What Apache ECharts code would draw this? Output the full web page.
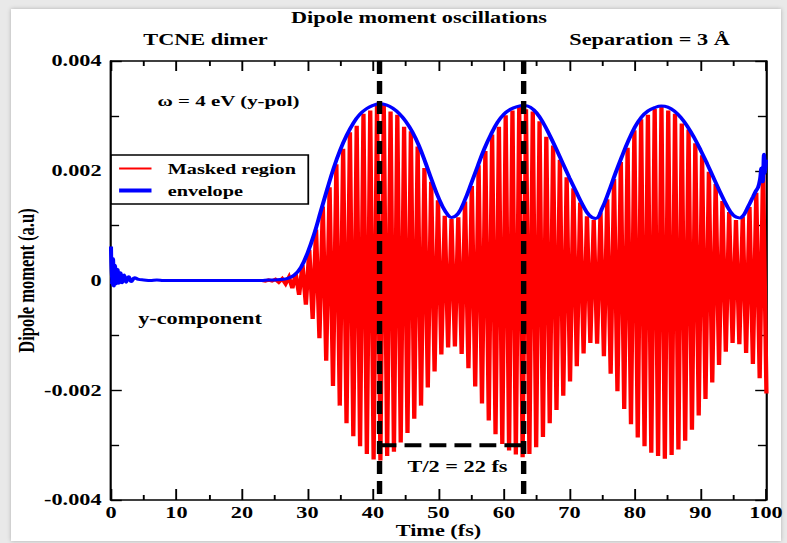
<!DOCTYPE html>
<html>
<head>
<meta charset="utf-8">
<title>Dipole moment oscillations</title>
<script src="https://cdn.jsdelivr.net/npm/echarts@6/dist/echarts.min.js"></script>
<style>
  html, body { margin: 0; padding: 0; background: #e9e9e9; }
  #page { position: relative; width: 787px; height: 543px; overflow: hidden; background: #e9e9e9; }
  #card { position: absolute; left: 11px; top: 9px; width: 770px; height: 532px; background: #fff;
          box-shadow: 0 0 4px rgba(0, 0, 0, 0.25); }
  /* the plot is laid out on a narrower canvas and widened, like the original xmgrace export */
  #chart { position: absolute; left: 0; top: 0; width: 583px; height: 543px;
           transform: scaleX(1.349914); transform-origin: 0 0; }
</style>
</head>
<body>
<div id="page"><div id="card"></div><div id="chart"></div></div>
<script>
// ---- data (dipole values in units of 10^-3 a.u.) ----

// masked y-component signal: one crest and one trough per optical cycle (4 eV -> 1.034 fs)
const cycleStart = 22;
const cyclePeriod = 1.034;
const crestValues = [
  0.00, 0.00, 0.01, 0.02, 0.03, 0.06, 0.12, 0.28, 0.56, 0.93,
  1.35, 1.70, 2.12, 2.40, 2.70, 2.82, 3.04, 3.10, 3.19, 3.20,
  3.08, 3.02, 2.80, 2.72, 2.44, 2.05, 1.80, 1.46, 1.18, 1.12,
  1.15, 1.44, 1.72, 2.10, 2.36, 2.66, 2.80, 3.01, 3.10, 3.16,
  3.12, 3.08, 2.90, 2.62, 2.46, 2.20, 1.88, 1.68, 1.42, 1.17,
  1.10, 1.24, 1.48, 1.85, 2.16, 2.42, 2.74, 2.94, 3.02, 3.13,
  3.16, 3.10, 3.04, 2.86, 2.75, 2.50, 2.28, 1.98, 1.76, 1.45,
  1.25, 1.10, 1.16, 1.34, 1.60, 2.05
];
const troughValues = [
  -0.00, -0.01, -0.01, -0.03, -0.06, -0.14, -0.26, -0.44, -0.70, -1.05,
  -1.46, -1.92, -2.28, -2.60, -2.84, -3.02, -3.16, -3.26, -3.28, -3.20,
  -3.12, -2.95, -2.78, -2.52, -2.28, -1.95, -1.66, -1.35, -1.22, -1.20,
  -1.34, -1.60, -1.93, -2.24, -2.55, -2.80, -2.98, -3.10, -3.17, -3.22,
  -3.16, -3.04, -2.85, -2.60, -2.36, -2.10, -1.84, -1.56, -1.33, -1.14,
  -1.15, -1.38, -1.70, -2.02, -2.34, -2.62, -2.86, -3.02, -3.14, -3.20,
  -3.25, -3.18, -3.08, -2.92, -2.72, -2.46, -2.16, -1.86, -1.54, -1.30,
  -1.14, -1.16, -1.32, -1.52, -1.78, -2.06
];

// envelope of the signal
const envTime = [
  0, 0.15, 0.3, 0.45, 0.6, 0.8, 1.0, 1.2, 1.45, 1.7, 2.0, 2.3, 2.7, 3.1, 3.6, 4.2,
  5, 6, 7, 8, 9, 10, 12, 14, 16, 18, 20, 22, 23, 24, 25, 26, 27, 28, 29,
  30, 31, 32, 33, 34, 35, 36, 37, 38, 39, 40, 41, 42, 43, 44, 45, 46, 47, 48, 49,
  50, 51, 52, 53, 54, 55, 56, 57, 58, 59, 60, 61, 62, 63, 64, 65, 66, 67, 68, 69,
  70, 71, 72, 73, 74, 75, 76, 77, 78, 79, 80, 81, 82, 83, 84, 85, 86, 87, 88, 89,
  90, 91, 92, 93, 94, 95, 96, 96.5, 97, 97.5, 98, 98.4, 98.8, 99.1, 99.3, 99.5, 99.7, 99.85, 100
];
const envValue = [
  0.62, -0.08, 0.40, -0.10, 0.28, -0.06, 0.20, -0.05, 0.14, -0.04, 0.10, -0.03, 0.07, -0.02, 0.05, 0.02,
  0.01, 0.00, 0.01, 0.00, 0.00, 0.00, 0.00, 0.00, 0.00, 0.00, 0.00, 0.00, 0.00, 0.01, 0.01, 0.02, 0.04, 0.10, 0.24,
  0.50, 0.84, 1.25, 1.66, 2.05, 2.38, 2.65, 2.87, 3.03, 3.13, 3.19, 3.22, 3.20, 3.14, 3.04, 2.90, 2.71, 2.46, 2.15, 1.82,
  1.51, 1.27, 1.15, 1.22, 1.46, 1.77, 2.09, 2.40, 2.66, 2.88, 3.03, 3.12, 3.17, 3.19, 3.16, 3.05, 2.87, 2.64, 2.39, 2.13,
  1.87, 1.62, 1.38, 1.19, 1.13, 1.32, 1.62, 1.95, 2.26, 2.55, 2.80, 2.98, 3.09, 3.15, 3.18, 3.16, 3.09, 2.97, 2.81, 2.61,
  2.38, 2.13, 1.87, 1.61, 1.37, 1.19, 1.14, 1.18, 1.28, 1.40, 1.52, 1.62, 1.70, 1.85, 2.05, 1.80, 2.30, 1.95, 2.20
];

// half-period annotation
const periodMarks = [41, 63];
const halfPeriodLevel = -3.0;

// ---- layout helpers ----
const FONT = '"Liberation Serif", "Times New Roman", Times, serif';
const STRETCH = 787 / 583;
const px = x => x / STRETCH;           // page x -> chart x
const unit = 1e-3;
const yMin = -0.004, yMax = 0.004;

const masked = [];
crestValues.forEach((c, k) => {
  const t = cycleStart + k * cyclePeriod;
  masked.push([t, c * unit]);
  masked.push([t + cyclePeriod / 2, troughValues[k] * unit]);
});
const envelope = envTime.map((t, i) => [t, envValue[i] * unit]);

const black = '#000';
const labelFont = { fontFamily: FONT, fontWeight: 'bold', fontSize: 16.5, color: black };

function boxAxis(extra) {
  return Object.assign({
    type: 'value',
    splitLine: { show: false },
    nameMoveOverlap: false,
    axisLine: { show: true, onZero: false, lineStyle: { color: black, width: 1.6 } },
    axisTick: { show: true, inside: true, length: 10, lineStyle: { color: black, width: 1.4 } },
    minorTick: { show: true, splitNumber: 2, length: 5, lineStyle: { color: black, width: 1.4 } },
    axisLabel: { show: false }
  }, extra);
}

const dashSeries = periodMarks.map(t => ({
  type: 'line', name: 'mark' + t, data: [[t, yMax], [t, yMin]],
  symbol: 'none', silent: true, z: 6,
  lineStyle: { color: black, width: 4, type: [13, 7] }
}));

const chart = echarts.init(document.getElementById('chart'), null, { renderer: 'svg' });
chart.setOption({
  animation: false,
  backgroundColor: 'transparent',
  textStyle: { fontFamily: FONT },
  grid: { left: px(111), right: 583 - px(766), top: 61, bottom: 43, containLabel: false, outerBoundsMode: 'none' },
  legend: {
    data: [
      { name: 'Masked region', icon: 'path://M0,0H24V2H0Z' },
      { name: 'envelope', icon: 'path://M0,0H24V4H0Z' }
    ],
    orient: 'vertical',
    left: px(111), top: 155,
    backgroundColor: '#fff',
    borderColor: black, borderWidth: 1.3, borderRadius: 0,
    padding: [6, 9, 6, 6],
    itemWidth: 24, itemHeight: 14, itemGap: 7,
    textStyle: { fontFamily: FONT, fontWeight: 'bold', fontSize: 15, color: black, padding: [0, 0, 0, 7] }
  },
  xAxis: [
    boxAxis({
      position: 'bottom', min: 0, max: 100, interval: 10,
      axisTick: { show: true, inside: true, length: 11, lineStyle: { color: black, width: 1.4 } },
      axisLabel: Object.assign({ show: true, margin: 4 }, labelFont),
      name: 'Time (fs)', nameLocation: 'middle', nameGap: 22,
      nameTextStyle: labelFont
    }),
    boxAxis({ position: 'top', min: 0, max: 100, interval: 10 })
  ],
  yAxis: [
    boxAxis({
      position: 'left', min: yMin, max: yMax, interval: 0.002,
      axisTick: { show: true, inside: true, length: 8, lineStyle: { color: black, width: 1.4 } },
      minorTick: { show: true, splitNumber: 2, length: 6, lineStyle: { color: black, width: 1.4 } },
      axisLabel: Object.assign({
        show: true, margin: 7,
        formatter: v => (Math.abs(v) < 1e-12 ? '0' : v.toFixed(3))
      }, labelFont),
      name: 'Dipole moment (a.u)', nameLocation: 'middle', nameGap: 54, nameRotate: 90,
      nameTextStyle: labelFont
    }),
    boxAxis({
      position: 'right', min: yMin, max: yMax, interval: 0.002,
      axisTick: { show: true, inside: true, length: 8, lineStyle: { color: black, width: 1.4 } },
      minorTick: { show: true, splitNumber: 2, length: 6, lineStyle: { color: black, width: 1.4 } }
    })
  ],
  series: [
    {
      type: 'line', name: 'Masked region', data: masked,
      symbol: 'none', z: 2, clip: true,
      itemStyle: { color: '#ff0000' },
      lineStyle: { color: '#ff0000', width: 3.2, join: 'miter' }
    },
    {
      type: 'line', name: 'envelope', data: envelope,
      symbol: 'none', z: 3, smooth: 0.4, clip: true,
      itemStyle: { color: '#0000ff' },
      lineStyle: { color: '#0000ff', width: 3 }
    },
    ...dashSeries,
    {
      type: 'line', name: 'half period', data: [[periodMarks[0], halfPeriodLevel * unit], [periodMarks[1], halfPeriodLevel * unit]],
      symbol: 'none', silent: true, z: 6,
      lineStyle: { color: black, width: 4, type: [12.5, 6] }
    }
  ],
  graphic: [
    { type: 'text', x: px(419), y: 18, style: { text: 'Dipole moment oscillations', align: 'center', verticalAlign: 'middle', fontFamily: FONT, fontWeight: 'bold', fontSize: 16.5, fill: black } },
    { type: 'text', x: px(205.5), y: 40, style: { text: 'TCNE dimer', align: 'center', verticalAlign: 'middle', fontFamily: FONT, fontWeight: 'bold', fontSize: 16.5, fill: black } },
    { type: 'text', x: px(649.5), y: 40, style: { text: 'Separation = 3 Å', align: 'center', verticalAlign: 'middle', fontFamily: FONT, fontWeight: 'bold', fontSize: 16.5, fill: black } },
    { type: 'text', x: px(228.5), y: 101, style: { text: 'ω = 4 eV (y-pol)', align: 'center', verticalAlign: 'middle', fontFamily: FONT, fontWeight: 'bold', fontSize: 15.5, fill: black } },
    { type: 'text', x: px(200), y: 319, style: { text: 'y-component', align: 'center', verticalAlign: 'middle', fontFamily: FONT, fontWeight: 'bold', fontSize: 16.5, fill: black } },
    { type: 'text', x: px(457.5), y: 467, style: { text: 'T/2 = 22 fs', align: 'center', verticalAlign: 'middle', fontFamily: FONT, fontWeight: 'bold', fontSize: 16.5, fill: black } }
  ]
});
</script>
</body>
</html>
